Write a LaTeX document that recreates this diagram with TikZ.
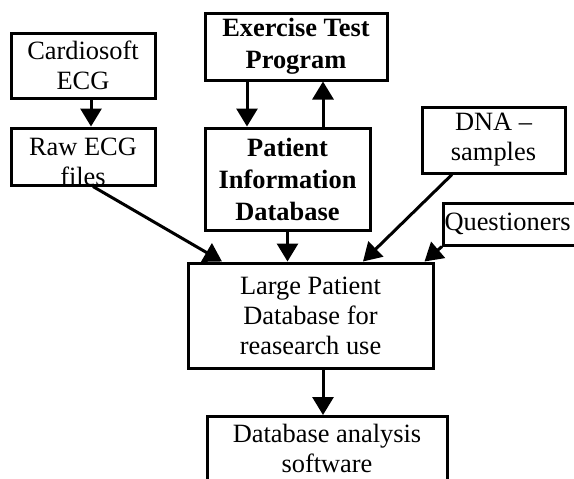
\documentclass[tikz,border=0pt]{standalone}
\usepackage{fontspec}
\setmainfont{Liberation Serif}
\usetikzlibrary{arrows.meta,positioning,calc}
\tikzset{
  every picture/.style={line width=1.5pt},
  fbox/.style={draw, rectangle, inner sep=0pt, align=center,
               font=\fontsize{13.2}{15}\selectfont},
  fboxb/.style={fbox, font=\fontsize{13.2}{16}\selectfont\bfseries},
  ftxt/.style={align=center, inner sep=0pt, font=\fontsize{13.2}{15}\selectfont},
  flow/.style={-{Triangle[width=10.5pt,length=9pt]}},
}

\begin{document}
\begin{tikzpicture}[x=0.5pt,y=-0.5pt]
  \clip (0,0) rectangle (574,478);
  % sources
  \node[fbox, minimum width=72pt, minimum height=32.5pt] (cardio) at (83,65.5)
        {Cardiosoft\\ECG};
  \node[fbox, minimum width=72pt, minimum height=28.5pt,
        label={[ftxt,yshift=-2.5pt]center:{Raw ECG\\files}}] (raw) at (83,156.5) {};
  \node[fboxb, minimum width=91pt, minimum height=33.5pt] (exer) at (296,46.5)
        {Exercise Test\\Program};
  \node[fboxb, minimum width=82.5pt, minimum height=51pt] (pinfo) at (287.5,179)
        {Patient\\Information\\Database};
  \node[fbox, minimum width=71.5pt, minimum height=33pt] (dna) at (493.5,140)
        {DNA --\\samples};
  \node[fbox, anchor=west, minimum width=85pt, minimum height=21pt,
        text width=84pt, align=left] (quest) at (442,224)
        {Questioners};
  % database and analysis
  \node[fbox, minimum width=122.5pt, minimum height=52.5pt] (large) at (310.5,315.5)
        {Large Patient\\Database for\\reasearch use};
  \node[fbox, anchor=north, minimum width=120pt, minimum height=40pt,
        label={[ftxt,yshift=4pt]center:{Database analysis\\software}}] (anasw)
        at (327,415) {};

  \draw[flow] ([xshift=4pt]cardio.south) -- ([xshift=4pt]raw.north);
  \draw[flow] ([xshift=-24.5pt]exer.south) -- ([xshift=-20.25pt]pinfo.north);
  \draw[flow] ([xshift=17.75pt]pinfo.north) -- ([xshift=13.5pt]exer.south);
  \draw[flow] ([xshift=5pt]raw.south) -- ([xshift=-44.25pt]large.north);
  \draw[flow] (pinfo.south) -- (large.north -| pinfo.south);
  \draw[flow] ([xshift=-20.75pt]dna.south) -- ([xshift=26.25pt]large.north);
  \draw[flow] (quest.south west) -- ([xshift=-5pt]large.north east);
  \draw[flow] ([xshift=6.25pt]large.south) -- ([xshift=-2pt]anasw.north);
\end{tikzpicture}
\end{document}
